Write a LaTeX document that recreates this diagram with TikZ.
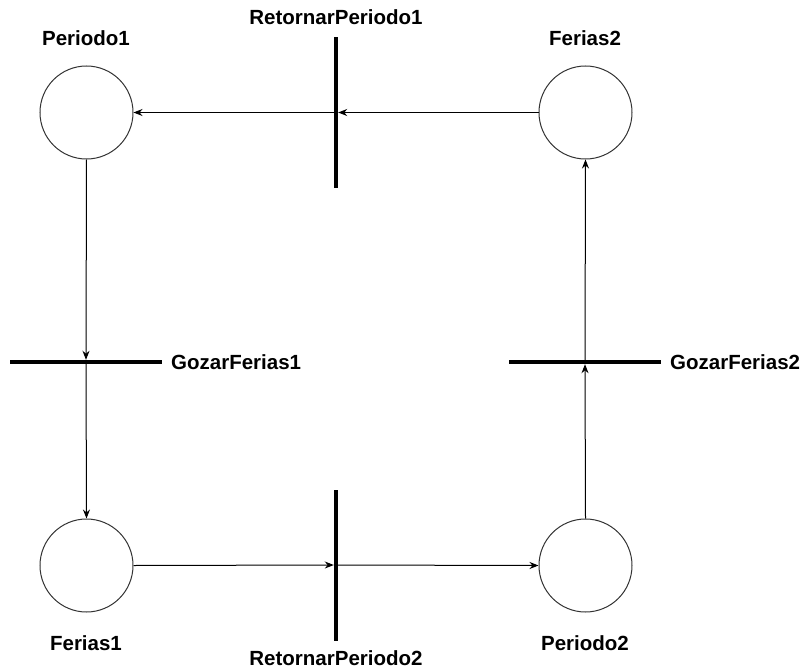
\documentclass[tikz,border=0pt]{standalone}
\usepackage{fontspec}
\setmainfont{Liberation Sans}
\usetikzlibrary{arrows.meta}
\begin{document}
\begin{tikzpicture}[x=1pt,y=-1pt,
  place/.style={circle,draw=black!80,line width=1pt,minimum size=93pt,inner sep=0pt},
  vbar/.style={rectangle,fill=black,draw=none,minimum width=4pt,minimum height=151pt,inner sep=0pt},
  hbar/.style={rectangle,fill=black,draw=none,minimum width=152pt,minimum height=4pt,inner sep=0pt},
  lbl/.style={font=\fontsize{20.5}{24}\selectfont\bfseries,inner sep=0pt},
  arc/.style={draw=black,line width=1pt,-{Stealth[length=9pt,width=7pt]}},
  line/.style={draw=black,line width=1pt}]
\useasboundingbox (0,0) rectangle (803,669);
% places
\node[place] (p1) at (86.5,112.5) {};
\node[place] (f2) at (585.5,112.5) {};
\node[place] (f1) at (86.5,565.5) {};
\node[place] (p2) at (585.5,565.5) {};
% transitions
\node[vbar] (rp1) at (336,112.5) {};
\node[vbar] (rp2) at (336,565) {};
\node[hbar] (gf1) at (86,362) {};
\node[hbar] (gf2) at (585,362) {};
% labels
\node[lbl] (lp1) at (86,38) {Periodo1};
\node[lbl] (lf2) at (585,38) {Ferias2};
\node[lbl] (lf1) at (86,643) {Ferias1};
\node[lbl] (lp2) at (585,643) {Periodo2};
\node[lbl] (lrp1) at (336,17) {RetornarPeriodo1};
\node[lbl] (lrp2) at (336,658.5) {RetornarPeriodo2};
\node[lbl,anchor=west] (lgf1) at (171,362) {GozarFerias1};
\node[lbl,anchor=west] (lgf2) at (670,362) {GozarFerias2};
% arcs
\draw[arc] (f2.west) -- (rp1.east);
\draw[arc] (rp1.center) -- (p1.east);
\draw[arc] (p1.south) -- (gf1.north);
\draw[arc] (gf1.center) -- (f1.north);
\draw[arc] (f1.east) -- (rp2.west);
\draw[arc] (rp2.center) -- (p2.west);
\draw[arc] (p2.north) -- (gf2.south);
\draw[arc] (gf2.center) -- (f2.south);
\end{tikzpicture}
\end{document}
